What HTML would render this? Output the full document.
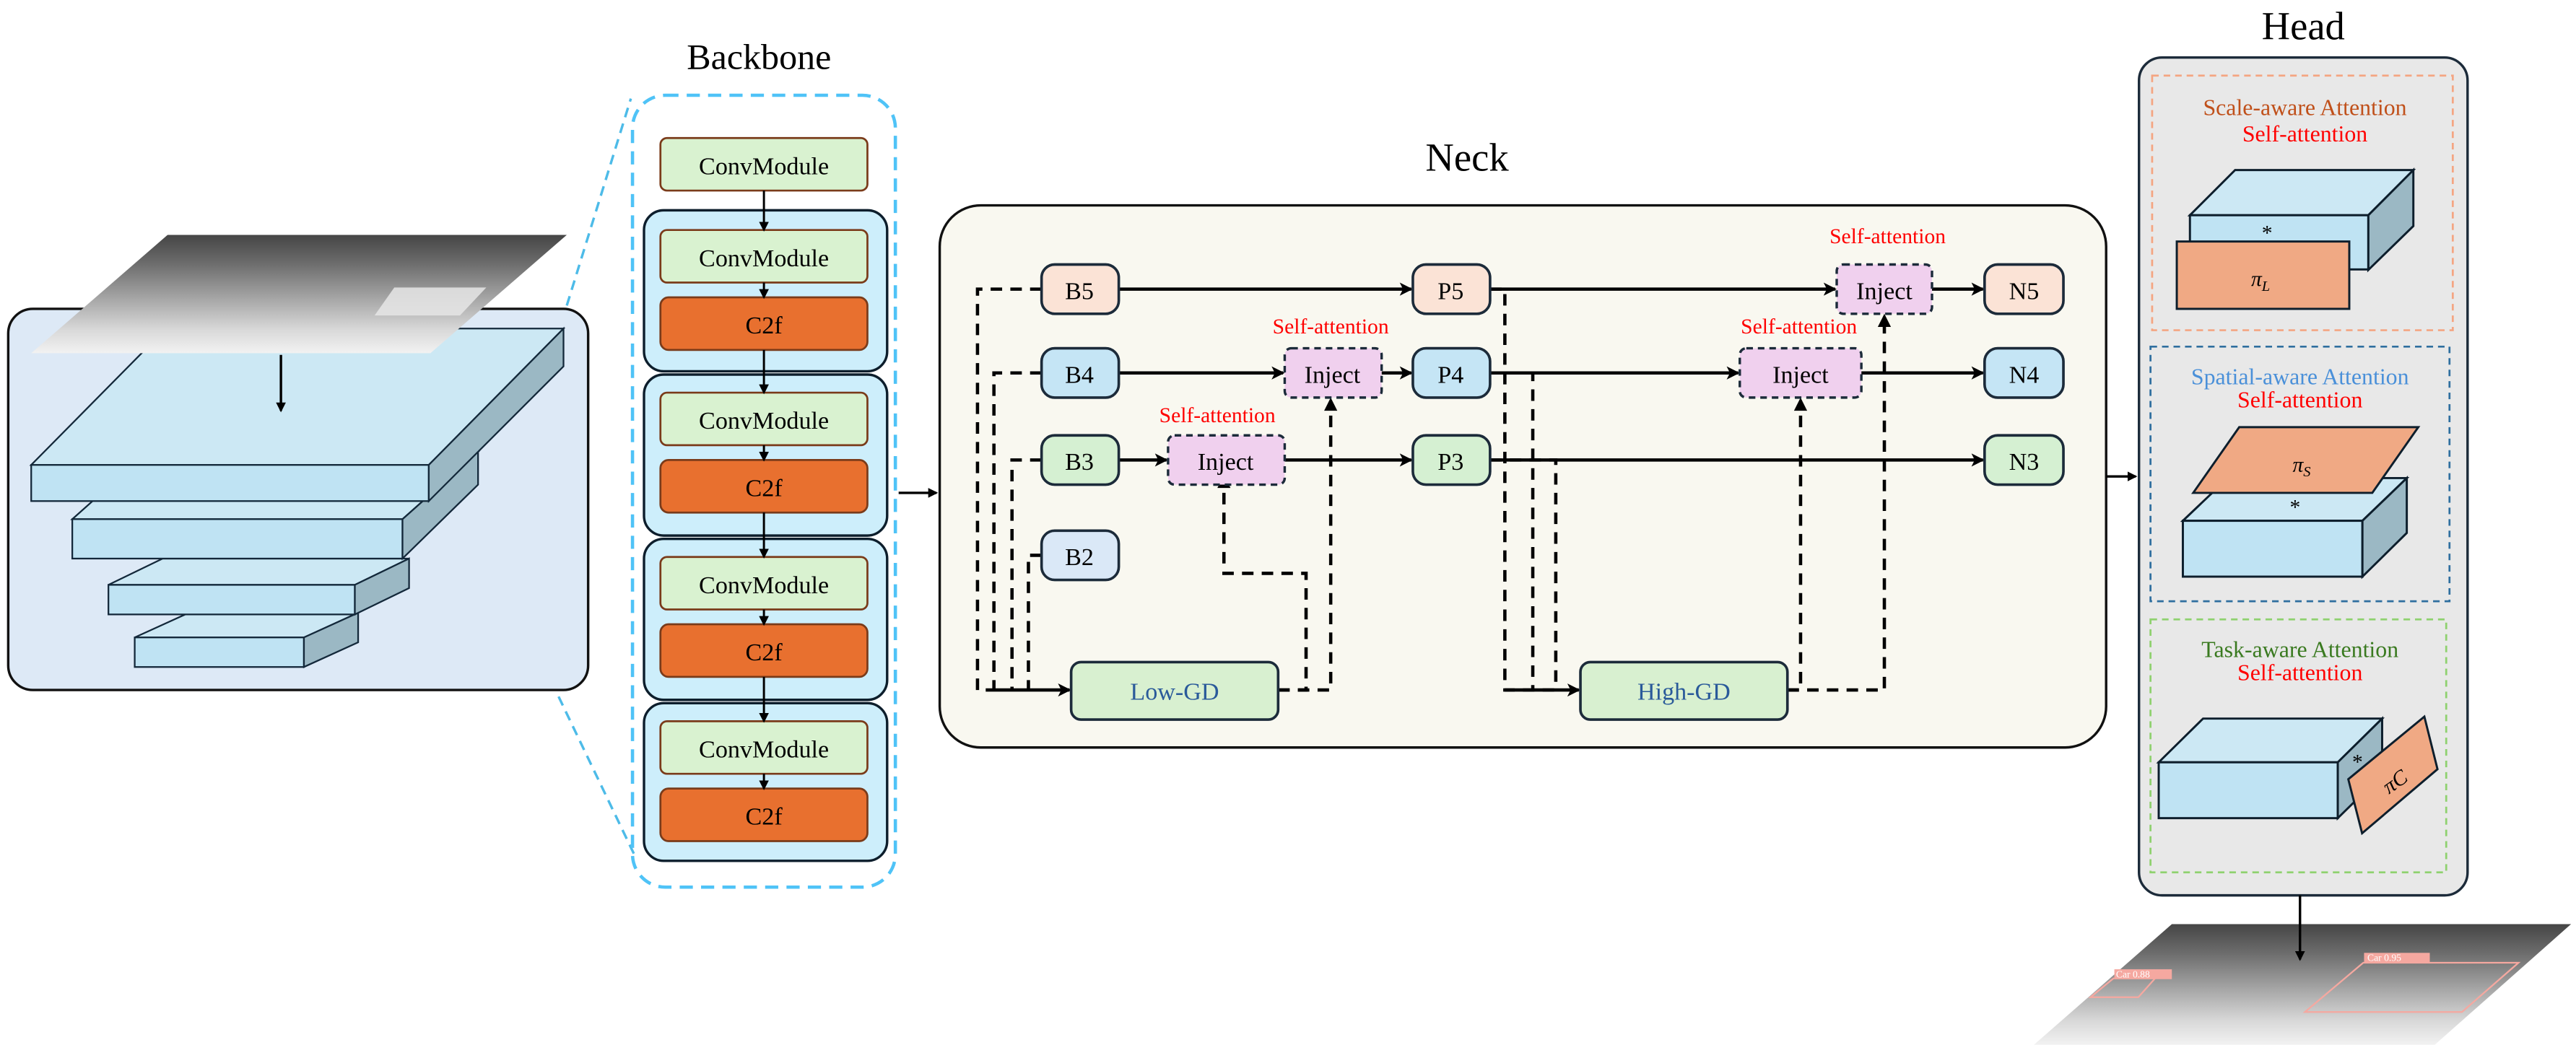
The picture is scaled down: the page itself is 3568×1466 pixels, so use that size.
<!DOCTYPE html>
<html><head><meta charset="utf-8"><style>
html,body{margin:0;padding:0;background:#fff}
svg{display:block}
text{font-family:"Liberation Serif",serif}
</style></head><body>
<svg width="3568" height="1466" viewBox="0 0 1568 644" preserveAspectRatio="none" xmlns="http://www.w3.org/2000/svg">
<defs>
<marker id="ah" markerWidth="8" markerHeight="8" refX="7" refY="4" orient="auto" markerUnits="userSpaceOnUse"><path d="M0,0 L8,4 L0,8 L2,4 Z" fill="#000"/></marker>
<marker id="as" markerWidth="6" markerHeight="6" refX="5" refY="3" orient="auto" markerUnits="userSpaceOnUse"><path d="M0,0 L6,3 L0,6 Z" fill="#000"/></marker>
<linearGradient id="img" x1="0" y1="0" x2="0" y2="1"><stop offset="0" stop-color="#454545"/><stop offset="0.25" stop-color="#6e6e6e"/><stop offset="0.55" stop-color="#a8a8a8"/><stop offset="0.8" stop-color="#d8d8d8"/><stop offset="1" stop-color="#f2f2f2"/></linearGradient>
</defs>

<!-- Left panel -->
<rect x="5" y="188" width="353" height="232" rx="15" fill="#dde9f6" stroke="#111" stroke-width="1.5"/>
<g stroke="#13283a" stroke-width="1">
<polygon points="82,388 115,373 218,373 185,388" fill="#cce8f4"/><rect x="82" y="388" width="103" height="18" fill="#bfe3f3"/><polygon points="185,388 218,373 218,391 185,406" fill="#9bb8c4"/>
<polygon points="66,356 99,340 249,340 216,356" fill="#cce8f4"/><rect x="66" y="356" width="150" height="18" fill="#bfe3f3"/><polygon points="216,356 249,340 249,358 216,374" fill="#9bb8c4"/>
<polygon points="44,316 90,275 291,275 245,316" fill="#cce8f4"/><rect x="44" y="316" width="201" height="24" fill="#bfe3f3"/><polygon points="245,316 291,275 291,295 245,340" fill="#9bb8c4"/>
<polygon points="19,283 101,200 343,200 261,283" fill="#cce8f4"/><rect x="19" y="283" width="242" height="22" fill="#bfe3f3"/><polygon points="261,283 343,200 343,223 261,305" fill="#9bb8c4"/>
</g>
<polygon points="102,143 345,143 262,215 19,215" fill="url(#img)"/>
<polygon points="240,175 296,175 280,192 228,192" fill="#e6e6e6" opacity="0.85"/>
<line x1="171" y1="216" x2="171" y2="250" stroke="#000" stroke-width="1.5" marker-end="url(#as)"/>
<line x1="345" y1="186" x2="384" y2="60" stroke="#4dbbe8" stroke-width="1.5" stroke-dasharray="6,4"/>
<line x1="340" y1="424" x2="386" y2="520" stroke="#4dbbe8" stroke-width="1.5" stroke-dasharray="6,4"/>

<!-- Backbone -->
<text x="462" y="42" font-size="22" text-anchor="middle">Backbone</text>
<rect x="385" y="58" width="160" height="482" rx="20" fill="none" stroke="#4fc3f7" stroke-width="2" stroke-dasharray="8,5"/>
<rect x="402" y="84" width="126" height="32" rx="4" fill="#d9f2d0" stroke="#7a3b1a" stroke-width="1.2"/>
<text x="465" y="106" font-size="15" text-anchor="middle">ConvModule</text>
<g stroke="#0d1e2c" stroke-width="1.5" fill="#cdeefb">
<rect x="392" y="128" width="148" height="98" rx="12"/>
<rect x="392" y="228" width="148" height="98" rx="12"/>
<rect x="392" y="328" width="148" height="98" rx="12"/>
<rect x="392" y="428" width="148" height="96" rx="12"/>
</g>
<g font-size="15" text-anchor="middle">
<rect x="402" y="140" width="126" height="32" rx="4" fill="#d9f2d0" stroke="#7a3b1a" stroke-width="1.2"/><text x="465" y="162">ConvModule</text>
<rect x="402" y="181" width="126" height="32" rx="5" fill="#e8702f" stroke="#7a3b1a" stroke-width="1.2"/><text x="465" y="203">C2f</text>
<rect x="402" y="239" width="126" height="32" rx="4" fill="#d9f2d0" stroke="#7a3b1a" stroke-width="1.2"/><text x="465" y="261">ConvModule</text>
<rect x="402" y="280" width="126" height="32" rx="5" fill="#e8702f" stroke="#7a3b1a" stroke-width="1.2"/><text x="465" y="302">C2f</text>
<rect x="402" y="339" width="126" height="32" rx="4" fill="#d9f2d0" stroke="#7a3b1a" stroke-width="1.2"/><text x="465" y="361">ConvModule</text>
<rect x="402" y="380" width="126" height="32" rx="5" fill="#e8702f" stroke="#7a3b1a" stroke-width="1.2"/><text x="465" y="402">C2f</text>
<rect x="402" y="439" width="126" height="32" rx="4" fill="#d9f2d0" stroke="#7a3b1a" stroke-width="1.2"/><text x="465" y="461">ConvModule</text>
<rect x="402" y="480" width="126" height="32" rx="5" fill="#e8702f" stroke="#7a3b1a" stroke-width="1.2"/><text x="465" y="502">C2f</text>
</g>
<g stroke="#000" stroke-width="1.3" marker-end="url(#as)">
<line x1="465" y1="116" x2="465" y2="140"/><line x1="465" y1="172" x2="465" y2="181"/>
<line x1="465" y1="213" x2="465" y2="239"/><line x1="465" y1="271" x2="465" y2="280"/>
<line x1="465" y1="312" x2="465" y2="339"/><line x1="465" y1="371" x2="465" y2="380"/>
<line x1="465" y1="412" x2="465" y2="439"/><line x1="465" y1="471" x2="465" y2="480"/>
</g>
<line x1="547" y1="300" x2="570" y2="300" stroke="#000" stroke-width="1.5" marker-end="url(#as)"/>

<!-- Neck -->
<text x="893" y="104" font-size="24" text-anchor="middle">Neck</text>
<rect x="572" y="125" width="710" height="330" rx="25" fill="#f9f8f0" stroke="#111" stroke-width="1.5"/>
<g stroke="#000" stroke-width="2" fill="none" stroke-dasharray="7,5">
<polyline points="634,176 595,176 595,420"/>
<polyline points="634,227 605,227 605,420"/>
<polyline points="634,280 616,280 616,420"/>
<polyline points="634,338 626,338 626,420"/>
<polyline points="778,420 795,420 795,349 745,349 745,300"/>
<polyline points="778,420 810,420 810,250"/>
<polyline points="907,176 916,176 916,420 950,420"/>
<polyline points="907,227 933,227 933,420"/>
<polyline points="907,280 947,280 947,420"/>
<polyline points="1088,420 1096,420 1096,250"/>
<polyline points="1088,420 1147,420 1147,198"/>
</g>
<g fill="#000"><path d="M741,297 L745,289 L749,297 Z"/><path d="M806,250 L810,242 L814,250 Z"/><path d="M1092,250 L1096,242 L1100,250 Z"/><path d="M1143,199 L1147,191 L1151,199 Z"/></g>
<g stroke="#000" stroke-width="2" marker-end="url(#ah)">
<line x1="600" y1="420" x2="651" y2="420"/>
<line x1="916" y1="420" x2="961" y2="420"/>
<line x1="681" y1="176" x2="859" y2="176"/>
<line x1="907" y1="176" x2="1117" y2="176"/>
<line x1="1176" y1="176" x2="1207" y2="176"/>
<line x1="681" y1="227" x2="781" y2="227"/>
<line x1="841" y1="227" x2="859" y2="227"/>
<line x1="907" y1="227" x2="1058" y2="227"/>
<line x1="1133" y1="227" x2="1207" y2="227"/>
<line x1="681" y1="280" x2="710" y2="280"/>
<line x1="782" y1="280" x2="859" y2="280"/>
<line x1="907" y1="280" x2="1207" y2="280"/>
</g>
<g stroke="#1c2b3a" stroke-width="1.6">
<rect x="634" y="161" width="47" height="30" rx="8" fill="#fbe3d6"/>
<rect x="860" y="161" width="47" height="30" rx="8" fill="#fbe3d6"/>
<rect x="1208" y="161" width="48" height="30" rx="8" fill="#fbe3d6"/>
<rect x="634" y="212" width="47" height="30" rx="8" fill="#c5e5f5"/>
<rect x="860" y="212" width="47" height="30" rx="8" fill="#c5e5f5"/>
<rect x="1208" y="212" width="48" height="30" rx="8" fill="#c5e5f5"/>
<rect x="634" y="265" width="47" height="30" rx="8" fill="#d5f0d2"/>
<rect x="860" y="265" width="47" height="30" rx="8" fill="#d5f0d2"/>
<rect x="1208" y="265" width="48" height="30" rx="8" fill="#d5f0d2"/>
<rect x="634" y="323" width="47" height="30" rx="8" fill="#dae8f7"/>
<rect x="652" y="403" width="126" height="35" rx="6" fill="#d8f0d0"/>
<rect x="962" y="403" width="126" height="35" rx="6" fill="#d8f0d0"/>
</g>
<g stroke="#1c2b3a" stroke-width="1.5" stroke-dasharray="4,3" fill="#f0d0ee">
<rect x="1118" y="161" width="58" height="30" rx="4"/>
<rect x="782" y="212" width="59" height="30" rx="4"/>
<rect x="1059" y="212" width="74" height="30" rx="4"/>
<rect x="711" y="265" width="71" height="30" rx="4"/>
</g>
<g font-size="15" text-anchor="middle">
<text x="657" y="182">B5</text><text x="883" y="182">P5</text><text x="1232" y="182">N5</text>
<text x="657" y="233">B4</text><text x="883" y="233">P4</text><text x="1232" y="233">N4</text>
<text x="657" y="286">B3</text><text x="883" y="286">P3</text><text x="1232" y="286">N3</text>
<text x="657" y="344">B2</text>
<text x="1147" y="182">Inject</text><text x="811" y="233">Inject</text><text x="1096" y="233">Inject</text><text x="746" y="286">Inject</text>
<text x="715" y="426" fill="#2a5a9a">Low-GD</text><text x="1025" y="426" fill="#2a5a9a">High-GD</text>
</g>
<g font-size="13" text-anchor="middle" fill="#ff0000">
<text x="1149" y="148">Self-attention</text>
<text x="810" y="203">Self-attention</text>
<text x="1095" y="203">Self-attention</text>
<text x="741" y="257">Self-attention</text>
</g>
<line x1="1282" y1="290" x2="1300" y2="290" stroke="#000" stroke-width="1.5" marker-end="url(#as)"/>

<!-- Head -->
<text x="1402" y="24" font-size="24" text-anchor="middle">Head</text>
<rect x="1302" y="35" width="200" height="510" rx="14" fill="#e8e8e8" stroke="#1c2b3a" stroke-width="1.5"/>
<rect x="1310" y="46" width="183" height="155" fill="none" stroke="#f4a582" stroke-width="1.2" stroke-dasharray="4,3"/>
<rect x="1309" y="211" width="182" height="155" fill="none" stroke="#2f6f9f" stroke-width="1.2" stroke-dasharray="4,3"/>
<rect x="1309" y="377" width="180" height="154" fill="none" stroke="#8fd16f" stroke-width="1.2" stroke-dasharray="4,3"/>
<g font-size="14" text-anchor="middle">
<text x="1403" y="70" fill="#c0501a">Scale-aware Attention</text>
<text x="1403" y="86" fill="#ff0000">Self-attention</text>
<text x="1400" y="234" fill="#4a90d9">Spatial-aware Attention</text>
<text x="1400" y="248" fill="#ff0000">Self-attention</text>
<text x="1400" y="400" fill="#3a7a20">Task-aware Attention</text>
<text x="1400" y="414" fill="#ff0000">Self-attention</text>
</g>
<g stroke="#0d1e2c" stroke-width="1.3">
<polygon points="1333,131 1360.5,103.5 1469,103.5 1441.6,131" fill="#cce8f4"/>
<rect x="1333" y="131" width="108.6" height="33" fill="#bfe3f3"/>
<polygon points="1441.6,131 1469,103.5 1469,137.6 1441.6,164.3" fill="#9bb8c4"/>
<rect x="1325" y="147" width="105" height="41" fill="#f0a984"/>
<polygon points="1328.7,317 1356,291 1465,291 1438,317" fill="#cce8f4"/>
<rect x="1328.7" y="317" width="109.3" height="34" fill="#bfe3f3"/>
<polygon points="1438,317 1465,291 1465,324.4 1438,351" fill="#9bb8c4"/>
<polygon points="1335,300 1363,260 1472,260 1444,300" fill="#f0a984"/>
<polygon points="1314,464 1341,437.4 1450,437.4 1423,464" fill="#cce8f4"/>
<rect x="1314" y="464" width="109" height="34" fill="#bfe3f3"/>
<polygon points="1423,464 1450,437.4 1450,471.5 1423,498" fill="#9bb8c4"/>
<polygon points="1429.4,474.3 1475.7,436.2 1483.7,468.2 1437.8,507.2" fill="#f0a984"/>
</g>
<g font-size="13" text-anchor="middle">
<text x="1380" y="146">*</text>
<text x="1376" y="174" font-style="italic">π<tspan font-size="9" dy="3">L</tspan></text>
<text x="1397" y="313">*</text>
<text x="1401" y="287" font-style="italic">π<tspan font-size="9" dy="3">S</tspan></text>
<text x="1435" y="468">*</text>
<text x="1458" y="480" font-style="italic" transform="rotate(-35 1458 476)">πC</text>
</g>
<polygon points="1322,562.5 1565,562.5 1482,636 1238,636" fill="url(#img)"/>
<polygon points="1438.5,586 1533,586 1498.6,616 1403,616" fill="none" stroke="#f5a8a0" stroke-width="1"/>
<rect x="1439" y="580" width="40" height="6" fill="#f5a8a0"/>
<text x="1441" y="585" font-size="6" fill="#fff" font-family="Liberation Mono,monospace">Car 0.95</text>
<polygon points="1286.5,595.5 1311.8,595.5 1301.6,607 1272.5,607" fill="none" stroke="#f5a8a0" stroke-width="1"/>
<rect x="1287" y="590" width="35" height="6" fill="#f5a8a0"/>
<text x="1288" y="595" font-size="6" fill="#fff" font-family="Liberation Mono,monospace">Car 0.88</text>
<line x1="1400" y1="545" x2="1400" y2="584" stroke="#000" stroke-width="1.5" marker-end="url(#as)"/>
</svg>
</body></html>
